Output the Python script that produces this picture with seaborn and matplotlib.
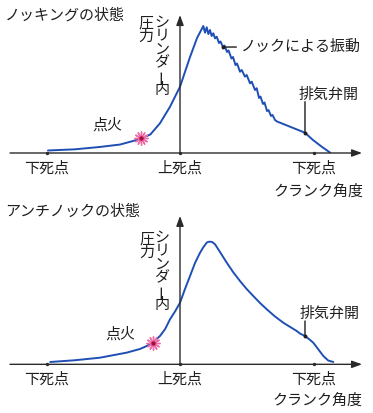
import numpy as np
import pandas as pd
import matplotlib
matplotlib.use("Agg")
import matplotlib.pyplot as plt
import seaborn as sns

# ---------------- data ----------------
# crank angle (deg, 0 = TDC) and relative cylinder pressure
knock_deg = [-178, -142, -108, -81, -61, -52, -40, -27, -13.5, 0,
             13.5, 23, 31.4, 33.7, 36.0, 38.2, 40.4, 42.7, 44.9, 47.2,
             49.5, 52.6, 54.6, 58.0, 60.0, 63.4, 65.4, 69.4, 71.5, 74.8,
             76.9, 80.9, 83.2, 87.6, 89.9, 94.4, 96.7, 101.1, 103.4, 106.5,
             108.5, 111.9, 113.9, 117.3, 119.3, 122.7, 124.7, 128.1, 130.8, 168.5,
             179.3, 191.5, 202.2]
knock_p = [2.0, 2.9, 4.8, 6.7, 9.9, 11.7, 14.7, 23.6, 36.7, 52.6,
           76.2, 91.3, 100.8, 95.5, 99.8, 94.4, 97.6, 92.9, 95.0, 91.0,
           92.3, 87.3, 88.5, 84.1, 85.3, 80.2, 81.4, 75.0, 76.2, 69.8,
           71.0, 64.5, 65.9, 60.6, 61.9, 55.3, 56.6, 50.0, 51.4, 43.7,
           44.8, 38.9, 40.1, 33.3, 34.1, 29.4, 30.2, 26.2, 25.0, 16.1,
           10.3, 4.8, 0.4]

anti_deg = [-175, -142, -108, -72, -54, -45, -37, -27, -20, -13.5,
            -6.7, 0, 6.7, 13.5, 20.2, 27.0, 31.4, 36.0, 37.8, 40.4,
            43.1, 47.2, 53.9, 63.0, 71.5, 80.9, 89.9, 98.8, 107.9, 116.9,
            128.1, 139.3, 157.3, 161.8, 168.5, 173.9, 179.7, 186.1, 193.2, 199.8,
            206.7]
anti_p = [1.9, 3.3, 5.4, 9.5, 12.5, 14.9, 17.6, 23.1, 28.8, 36.7,
          43.1, 50.2, 61.4, 72.0, 82.6, 91.0, 95.4, 99.2, 99.8, 100.0,
          99.8, 97.9, 91.6, 82.9, 75.3, 67.9, 61.4, 55.7, 50.0, 44.9,
          39.0, 33.9, 27.2, 25.1, 23.1, 20.6, 17.6, 12.5, 6.8, 3.1,
          1.9]

knock_ignition = (-52, 11.7)
anti_ignition = (-37, 17.6)
knock_exhaust = (168.5, 16.1)
anti_exhaust = (168.5, 23.1)
knock_vibration_pt = (58.0, 84.1)

dead_center_deg = [-180, 0, 180]
dead_center_labels = ["下死点", "上死点", "下死点"]

titles = ["ノッキングの状態", "アンチノックの状態"]
ylabel_col1 = "シリンダー内"
ylabel_col2 = "圧力"
xlabel = "クランク角度"
ignition_label = "点火"
exhaust_label = "排気弁開"
vibration_label = "ノックによる振動"

# ---------------- style ----------------
sns.set_theme(style="white")
plt.rcParams["font.family"] = ["Noto Sans CJK JP", "DejaVu Sans"]

W, H = 373, 413
fig = plt.figure(figsize=(W / 100, H / 100), dpi=100)
fig.patch.set_facecolor("white")

LINE = "#1f4fb4"
INK = "#1e1e1e"
AXC = "#2a2a2a"
FS = 10.8


def fpx(x, y):
    return (x / W, 1 - y / H)


def draw_panel(ax, deg, p, ign, exh, ylim, yaxis_top, ex_len_px, df_name):
    df = pd.DataFrame({"crank": deg, "pressure": p})
    sns.lineplot(data=df, x="crank", y="pressure", ax=ax, color=LINE, lw=1.4,
                 estimator=None, sort=False)
    ax.set_xlim(-242.7, 260.2)
    ax.set_ylim(*ylim)
    ax.axis("off")
    # x axis with arrow
    ax.annotate("", xy=(362 / W, 0), xytext=(10 / W, 0),
                xycoords=ax.get_yaxis_transform(),
                textcoords=ax.get_yaxis_transform(),
                arrowprops=dict(arrowstyle="-|>,head_length=0.6,head_width=0.22",
                                color=AXC, lw=1.0, mutation_scale=10,
                                shrinkA=0, shrinkB=0))
    # y axis with arrow at TDC
    ax.annotate("", xy=(0, yaxis_top), xytext=(0, 0),
                arrowprops=dict(arrowstyle="-|>,head_length=0.6,head_width=0.22",
                                color=AXC, lw=1.0, mutation_scale=10,
                                shrinkA=0, shrinkB=0))
    # dead-centre dots and labels
    ax.scatter(dead_center_deg, [0] * len(dead_center_deg), s=6, color=AXC,
               zorder=5, linewidths=0)
    for d, lab in zip(dead_center_deg, dead_center_labels):
        ax.annotate(lab, xy=(d, 0), xytext=(0, -15), textcoords="offset pixels",
                    ha="center", va="center", fontsize=FS, color=INK)
    # ignition spark
    ax.plot([ign[0]], [ign[1]], marker=(12, 2, 0), markersize=10,
            color="#f06aa8", mew=1.0, zorder=6)
    ax.plot([ign[0]], [ign[1]], marker="o", markersize=3.2,
            color="#a3123e", mew=0, zorder=7)
    # exhaust valve opens
    ax.plot([exh[0]], [exh[1]], marker="o", markersize=2.8, color=INK,
            mew=0, zorder=7)
    ax.annotate("", xy=exh, xytext=(0, ex_len_px), textcoords="offset pixels",
                arrowprops=dict(arrowstyle="-", color=INK, lw=1.0,
                                shrinkA=0, shrinkB=0))


# top panel: pixel rows 0..206
ax1 = fig.add_axes([0, 1 - 206 / H, 1, 206 / H])
draw_panel(ax1, knock_deg, knock_p, knock_ignition, knock_exhaust,
           (-42.07, 121.44), 109.5, 31, "knock")
# knock vibration callout
ax1.plot([knock_vibration_pt[0]], [knock_vibration_pt[1]], marker="o",
         markersize=2.8, color=INK, mew=0, zorder=7)
ax1.annotate(vibration_label, xy=knock_vibration_pt, xytext=fpx(241, 47),
             textcoords="figure fraction", ha="left", va="center",
             fontsize=FS, color=INK,
             arrowprops=dict(arrowstyle="-", color=INK, lw=1.0,
                             shrinkA=1, shrinkB=0))

# bottom panel: pixel rows 206..413
ax2 = fig.add_axes([0, 0, 1, 207 / H])
draw_panel(ax2, anti_deg, anti_p, anti_ignition, anti_exhaust,
           (-39.7, 129.1), 121.0, 15, "anti")

# ---------------- texts ----------------
def vtext(cx, top, s, step=13.4):
    for i, ch in enumerate(s):
        rot = 90 if ch == "ー" else 0
        fig.text(*fpx(cx, top + (i + 0.5) * step), ch, ha="center", va="center",
                 fontsize=FS, color=INK, rotation=rot)


# top panel texts
fig.text(*fpx(5, 15), titles[0], ha="left", va="center", fontsize=FS, color=INK)
vtext(162, 16, ylabel_col1)
vtext(145.5, 17, ylabel_col2)
fig.text(*fpx(107, 125), ignition_label, ha="center", va="center", fontsize=FS, color=INK)
fig.text(*fpx(329, 95), exhaust_label, ha="center", va="center", fontsize=FS, color=INK)
fig.text(*fpx(319, 192), xlabel, ha="center", va="center", fontsize=FS, color=INK)

# bottom panel texts
fig.text(*fpx(5, 212), titles[1], ha="left", va="center", fontsize=FS, color=INK)
vtext(162, 231, ylabel_col1)
vtext(146.5, 233, ylabel_col2)
fig.text(*fpx(120, 334), ignition_label, ha="center", va="center", fontsize=FS, color=INK)
fig.text(*fpx(330, 314), exhaust_label, ha="center", va="center", fontsize=FS, color=INK)
fig.text(*fpx(318, 401), xlabel, ha="center", va="center", fontsize=FS, color=INK)

fig.savefig("out.png", dpi=100, facecolor="white")
